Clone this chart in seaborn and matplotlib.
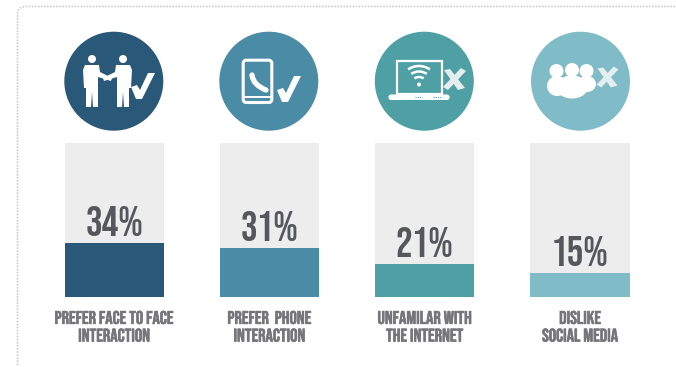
import matplotlib
matplotlib.use("Agg")
import matplotlib.pyplot as plt
import matplotlib.patheffects as pe
import pandas as pd
import seaborn as sns
from matplotlib.patches import Circle, Ellipse, FancyBboxPatch, Polygon, Arc
from matplotlib.path import Path
from matplotlib.patches import PathPatch

categories = ["PREFER FACE TO FACE\nINTERACTION", "PREFER  PHONE\nINTERACTION",
              "UNFAMILAR WITH\nTHE INTERNET", "DISLIKE\nSOCIAL MEDIA"]
shares = [34, 31, 21, 15]
track_height = 97.5
colors = ["#2a5878", "#4a8ba6", "#4fa0a5", "#7fbcc8"]
TRACK = "#ededed"
TEXT = "#55575c"
LABEL = "#75757a"

sns.set_theme(style="white")
plt.rcParams["font.family"] = ["Bebas Neue", "Antonio", "DejaVu Sans"]
W, H = 676, 367
fig = plt.figure(figsize=(W / 100, H / 100), dpi=100, facecolor="white")

# Bar panel
ax = fig.add_axes([36.55 / W, 1 - 297 / H, 621.2 / W, 154 / H])
df = pd.DataFrame({"category": categories, "share": shares, "track": track_height})
sns.barplot(df, x="category", y="track", color=TRACK, saturation=1, width=0.64,
            linewidth=0, ax=ax)
sns.barplot(df, x="category", y="share", hue="category", palette=colors, saturation=1,
            width=0.64, linewidth=0, legend=False, ax=ax)
ax.set_ylim(0, track_height)
ax.set_xlim(-0.5, 3.5)
ax.set_xlabel("")
ax.set_ylabel("")
ax.set_yticks([])
sns.despine(ax=ax, left=True, bottom=True)
ax.tick_params(axis="x", length=0, pad=10)
for t in ax.get_xticklabels():
    t.set_fontsize(13.2)
    t.set_color(LABEL)
    t.set_linespacing(1.36)
    t.set_path_effects([pe.withStroke(linewidth=0.4, foreground=LABEL)])
for i, v in enumerate(shares):
    ax.annotate(f"{v}%", (i, v), xytext=(0, 5), textcoords="offset points",
                ha="center", va="baseline", fontsize=30, color=TEXT)

# Overlay in pixel coordinates for the frame and the icons
ov = fig.add_axes([0, 0, 1, 1], facecolor="none")
ov.set_xlim(0, W)
ov.set_ylim(H, 0)
ov.axis("off")

frame = Path([(17.5, 365), (17.5, 14), (17.5, 6.5), (26, 6.5), (676, 6.5)],
             [Path.MOVETO, Path.LINETO, Path.CURVE3, Path.CURVE3, Path.LINETO])
ov.add_patch(PathPatch(frame, fill=False, ec="#c4c4c4", lw=1.1, ls=(0, (1, 1))))

WHITE = "white"


def check(x, y, s=1.0, c=WHITE):
    pts = [(0, 14), (6, 12), (9, 17), (17, 0), (24, 0), (11, 26), (5, 26)]
    ov.add_patch(Polygon([(x + a * s, y + b * s) for a, b in pts], fc=c, ec="none", zorder=4))


def cross(x, y, s=1.0, c="#e4eeee"):
    arm1 = [(-10, -9), (-4, -10), (11, 9), (4, 11)]
    arm2 = [(7, -11), (12, -8), (-6, 11), (-11, 8)]
    for arm in (arm1, arm2):
        ov.add_patch(Polygon([(x + a * s, y + b * s) for a, b in arm], fc=c, ec="none", zorder=4))


def person(x, flip=1):
    ov.add_patch(Circle((x, 59), 4, fc=WHITE, ec="none", zorder=3))
    body = [(-7, 65), (7, 65), (8, 72), (20, 78), (19, 81), (6, 77), (6, 88), (6, 107),
            (1, 107), (0, 92), (-1, 107), (-6, 107), (-6, 88), (-8, 88), (-9, 70)]
    ov.add_patch(Polygon([(x + flip * a, b) for a, b in body], fc=WHITE, ec="none", zorder=3))


centres = [113.8, 268.8, 424.3, 580.5]
for cx, c in zip(centres, colors):
    ov.add_patch(Circle((cx, 81.2), 49.5, fc=c, ec="none", zorder=2))

# Handshake icon
person(92)
person(123, flip=-1)
check(131, 73)

# Phone icon
ov.add_patch(FancyBboxPatch((243.2, 60.2), 28.6, 42.3, boxstyle="round,pad=0,rounding_size=3",
                            fc="none", ec=WHITE, lw=2.2, zorder=3))
ov.add_patch(PathPatch(Path([(243, 96.5), (272, 96.5)]), ec=WHITE, lw=1.4, zorder=3))
handset = Path([(252, 75), (253, 85), (266, 90)], [Path.MOVETO, Path.CURVE3, Path.CURVE3])
ov.add_patch(PathPatch(handset, fill=False, ec=WHITE, lw=3.8, capstyle="round", zorder=3))
check(277, 76)

# Laptop icon
ov.add_patch(FancyBboxPatch((396.5, 60.5), 45, 33.5, boxstyle="square,pad=0",
                            fc="none", ec=WHITE, lw=1.6, zorder=3))
ov.add_patch(FancyBboxPatch((388.5, 94.5), 61, 5.5, boxstyle="round,pad=0,rounding_size=2.5",
                            fc=WHITE, ec="none", zorder=3))
for x0, x1 in [(415, 422), (433, 442)]:
    ov.add_patch(PathPatch(Path([(x0, 96.8), (x1, 96.8)]), ec=colors[2], lw=0.8, ls=(0, (1, 1)), zorder=4))
ov.add_patch(Circle((419, 84.5), 2, fc=WHITE, ec="none", zorder=3))
for r in (8, 13.5, 19):
    ov.add_patch(Arc((419, 85), 2 * r, 2 * r, theta1=235, theta2=305, ec=WHITE, lw=1.8, zorder=3))
cross(454, 79)

# Group icon
for hx, hy, r in [(556.5, 71, 7), (572, 70, 7), (586.5, 71, 7)]:
    ov.add_patch(Circle((hx, hy), r, fc=WHITE, ec="none", zorder=3))
for ex, ey, w, h in [(557, 86, 20, 20), (587, 84, 18, 16), (572, 87, 32, 23)]:
    ov.add_patch(Ellipse((ex, ey), w, h, fc=WHITE, ec="none", zorder=3))
cross(607, 77, 0.95)

fig.savefig("out.png", dpi=100)
